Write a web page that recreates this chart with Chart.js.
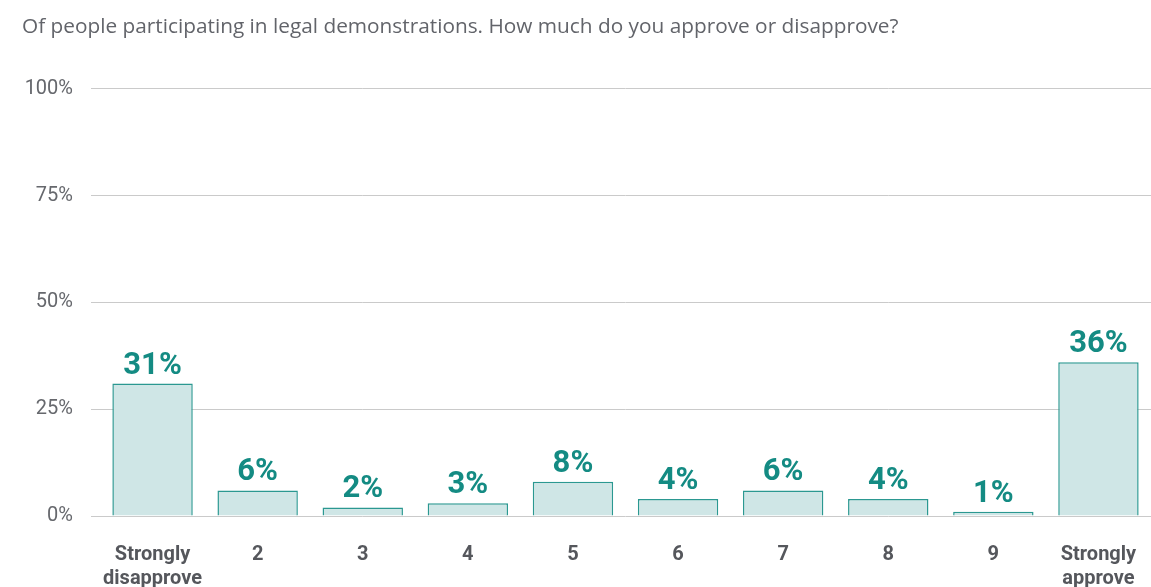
<!DOCTYPE html>
<html>
<head>
<meta charset="utf-8">
<title>Legal demonstrations</title>
<script src="https://cdn.jsdelivr.net/npm/chart.js@4/dist/chart.umd.min.js"></script>
<style>
    html, body { margin: 0; padding: 0; background: #ffffff; }
    #chart { display: block; }
</style>
</head>
<body>
<canvas id="chart" width="1151" height="587"></canvas>
<script>
// Approval scale, 1 (strongly disapprove) to 10 (strongly approve)
const categories = [['Strongly', 'disapprove'], '2', '3', '4', '5', '6', '7', '8', '9', ['Strongly', 'approve']];
const shares = [31, 6, 2, 3, 8, 4, 6, 4, 1, 36];
const yTicks = [0, 25, 50, 75, 100];

const teal = '#148b83';

// writes the percentage above each bar
const valueLabels = {
    id: 'valueLabels',
    afterDatasetsDraw(chart) {
        const ctx = chart.ctx;
        const meta = chart.getDatasetMeta(0);
        ctx.save();
        ctx.font = 'bold 31px Roboto';
        ctx.fillStyle = teal;
        ctx.textAlign = 'center';
        ctx.textBaseline = 'alphabetic';
        meta.data.forEach((bar, i) => {
            ctx.fillText(shares[i] + '%', bar.x, bar.y - 10);
        });
        ctx.restore();
    }
};

new Chart(document.getElementById('chart').getContext('2d'), {
    type: 'bar',
    data: {
        labels: categories,
        datasets: [{
            data: shares,
            backgroundColor: '#cfe6e6',
            borderColor: '#2b9891',
            borderWidth: 1.5,
            barPercentage: 0.765,
            categoryPercentage: 1
        }]
    },
    options: {
        responsive: false,
        animation: false,
        layout: { padding: { top: 15, left: 22, right: 0, bottom: 0 } },
        plugins: {
            legend: { display: false },
            tooltip: { enabled: false },
            title: {
                display: true,
                text: 'Of people participating in legal demonstrations. How much do you approve or disapprove?',
                align: 'start',
                color: '#62646a',
                font: { family: 'Open Sans', size: 20.8, weight: 'normal', lineHeight: 1.2 },
                padding: { top: 0, bottom: 49 }
            }
        },
        scales: {
            x: {
                grid: { display: false },
                border: { display: false },
                ticks: {
                    color: '#55575c',
                    font: { family: 'Roboto', size: 20, weight: 'bold', lineHeight: 1.2 },
                    padding: 19,
                    maxRotation: 0,
                    autoSkip: false
                },
                afterFit(scale) {
                    scale.height = 71;
                    // let the plot run to the canvas edge
                    scale.paddingLeft = 0;
                    scale.paddingRight = 0;
                }
            },
            y: {
                min: 0,
                max: 100,
                afterBuildTicks(scale) {
                    scale.ticks = yTicks.map(v => ({ value: v }));
                },
                grid: {
                    color: '#cacaca',
                    lineWidth: 1,
                    drawTicks: true,
                    tickLength: 9
                },
                border: { display: false },
                ticks: {
                    color: '#66686d',
                    font: { family: 'Roboto', size: 20 },
                    padding: 18,
                    callback: v => v + '%'
                },
                afterFit(scale) { scale.width = 78; }
            }
        }
    },
    plugins: [valueLabels]
});
</script>
</body>
</html>
